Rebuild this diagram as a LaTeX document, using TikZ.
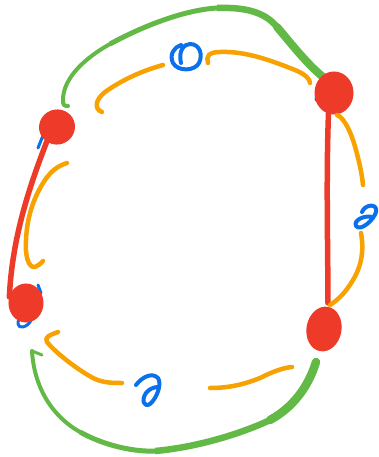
\documentclass[tikz,border=0pt]{standalone}
\usetikzlibrary{shapes.geometric}
\definecolor{inkred}{HTML}{EE3A28}
\definecolor{inkgreen}{HTML}{62B946}
\definecolor{inkorange}{HTML}{F7A200}
\definecolor{inkblue}{HTML}{0A70EC}
\tikzset{
  blob/.style={ellipse,fill=inkred,draw=inkred,line width=1pt,inner sep=0pt},
  redline/.style={draw=inkred,line width=5.5pt,line cap=round},
  greenline/.style={draw=inkgreen,line cap=butt,line join=round},
  greenend/.style={draw=inkgreen,line cap=round,line join=round},
  arcline/.style={draw=inkorange,line width=4.5pt,line cap=round,line join=round},
  squiggle/.style={draw=inkblue,line width=4pt,line cap=round,line join=round}
}
\begin{document}
\begin{tikzpicture}[x=1pt,y=-1pt]
  \useasboundingbox (0,0) rectangle (379,457);
  % blue marks under the dots
  \draw[squiggle,line width=3pt] (38,148) -- (42,138) -- (45,131);
  \draw[squiggle,line width=3pt] (22,314) .. controls (16,322) and (17,328) .. (23,327) .. controls (27,326) and (30,323) .. (31,320);
  \draw[squiggle,line width=3pt] (38,285) -- (41,293);
  \draw[squiggle,line width=3pt] (318,87) -- (316,100);
  % green arcs
  \draw[greenend,line width=4pt] (68,106) .. controls (64,106) and (63,105) .. (63,100) .. controls (63,78) and (85,58) .. (110,44);
  \draw[greenline,line width=5pt] (110,44) .. controls (145,25) and (185,10) .. (217,8);
  \draw[greenline,line width=6.5pt] (217,8) .. controls (245,7) and (265,12) .. (277,27);
  \draw[greenend,line width=8pt] (277,27) .. controls (290,42) and (305,62) .. (323,77);
  \draw[greenend,line width=3pt] (42,355) -- (32,351);
  \draw[greenend,line width=4pt] (32,351) .. controls (34,385) and (50,415) .. (80,432);
  \draw[greenline,line width=5pt] (80,432) .. controls (105,446) and (135,452) .. (155,451);
  \draw[greenline,line width=6.5pt] (155,451) .. controls (200,447) and (245,432) .. (270,420);
  \draw[greenend,line width=8.5pt] (270,420) .. controls (292,408) and (308,388) .. (316,362);
  % red dots
  \node[blob,minimum width=35pt,minimum height=34pt,rotate=20] (tl) at (57,127) {};
  \node[blob,minimum width=38pt,minimum height=42pt] (tr) at (334,93) {};
  \node[blob,minimum width=34pt,minimum height=38pt] (bl) at (26,303) {};
  \node[blob,minimum width=34pt,minimum height=44pt,rotate=-10] (br) at (324,329) {};
  % red edges
  \draw[redline] (tl.215) .. controls (28,190) and (12,240) .. (bl.160);
  \draw[redline,shorten >=4pt] (tr.255) .. controls (326,180) and (328,250) .. (br.north);
  % orange arcs
  \draw[arcline] (102,112) .. controls (94,109) and (95,100) .. (105,92) .. controls (125,78) and (145,70) .. (163,65);
  \draw[arcline] (208,63) .. controls (206,57) and (208,52) .. (220,52) .. controls (245,51) and (270,60) .. (295,70) .. controls (305,74) and (310,79) .. (310,83);
  \draw[arcline] (337,115) .. controls (345,118) and (352,135) .. (356,150) .. controls (360,165) and (362,175) .. (363,185);
  \draw[arcline] (361,233) .. controls (364,250) and (362,265) .. (353,280) .. controls (346,292) and (338,300) .. (330,305);
  \draw[arcline] (67,163) .. controls (58,166) and (52,170) .. (45,180) .. controls (35,195) and (27,215) .. (26,240) .. controls (25,255) and (28,268) .. (35,267) .. controls (38,266) and (40,264) .. (43,261);
  \draw[arcline] (58,332) .. controls (50,335) and (44,337) .. (47,342) .. controls (55,352) and (75,368) .. (93,378) .. controls (103,383) and (113,383) .. (122,383);
  \draw[arcline] (210,388) .. controls (230,388) and (245,384) .. (260,378) .. controls (272,372) and (282,368) .. (292,367);
  % blue letters
  \draw[squiggle] (181,63) .. controls (178,51) and (184,44) .. (190,44) .. controls (200,44) and (203,55) .. (199,63) .. controls (195,71) and (178,72) .. (173,63) .. controls (169,55) and (174,47) .. (181,45);
  \draw[squiggle] (362,212) .. controls (365,204) and (378,203) .. (376,212) .. controls (374,220) and (360,232) .. (356,226) .. controls (353,220) and (365,215) .. (372,217);
  \draw[squiggle] (136,385) .. controls (142,377) and (152,372) .. (158,378) .. controls (162,384) and (157,398) .. (150,404) .. controls (144,408) and (141,400) .. (146,393) .. controls (149,389) and (154,387) .. (158,387);
\end{tikzpicture}
\end{document}
